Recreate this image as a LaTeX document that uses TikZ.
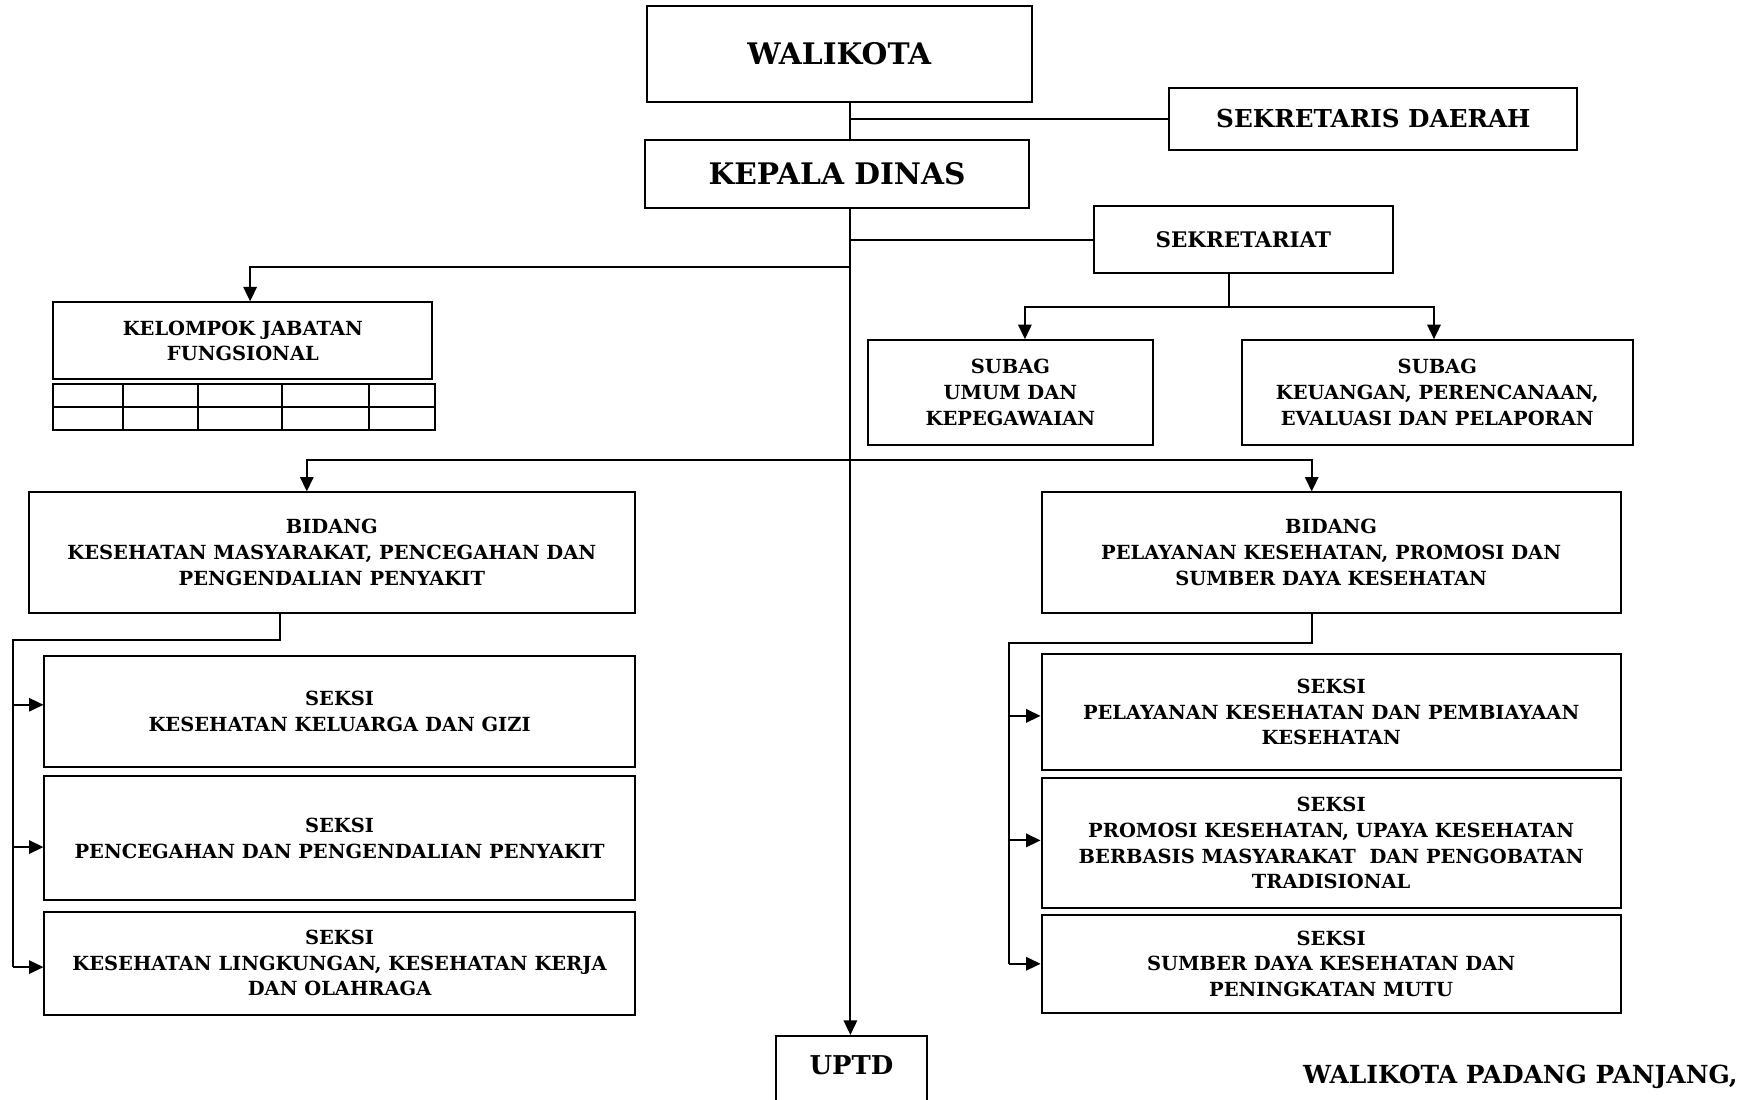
\documentclass[tikz,border=0pt]{standalone}
\usepackage{fontspec}
\setmainfont{DejaVu Serif}
\usetikzlibrary{calc,arrows.meta}

\begin{document}
\begin{tikzpicture}[x=1pt,y=-1pt,line width=1.8pt,
  box/.style={draw,align=center,inner sep=0pt,font=\bfseries\fontsize{17.5}{23}\selectfont},
  arr/.style={-{Triangle[length=13pt,width=12pt]}}]
  \useasboundingbox (0,0) rectangle (1568,989);
  \clip (0,0) rectangle (1568,989);
  \node[box,minimum width=346pt,minimum height=87pt,font=\bfseries\fontsize{26.7}{30}\selectfont] (0) at (755,48.5) {WALIKOTA};
  \node[box,minimum width=367pt,minimum height=56pt,font=\bfseries\fontsize{22.2}{26}\selectfont] (1) at (1235.5,107) {SEKRETARIS DAERAH};
  \node[box,minimum width=346pt,minimum height=61pt,font=\bfseries\fontsize{26.7}{30}\selectfont] (2) at (753,156.5) {KEPALA DINAS};
  \node[box,minimum width=269pt,minimum height=61pt,font=\bfseries\fontsize{19.3}{23}\selectfont] (3) at (1118.5,215.5) {SEKRETARIAT};
  \node[box,minimum width=341pt,minimum height=69pt] (4) at (218.5,306.5) {KELOMPOK JABATAN\\FUNGSIONAL};
  \node[box,minimum width=343pt,minimum height=42pt] (5) at (219.5,366) {};
  \node[box,minimum width=256pt,minimum height=94pt] (6) at (909,353) {SUBAG\\UMUM DAN\\KEPEGAWAIAN};
  \node[box,minimum width=352pt,minimum height=94pt] (7) at (1293,353) {SUBAG\\KEUANGAN, PERENCANAAN,\\EVALUASI DAN PELAPORAN};
  \node[box,minimum width=545pt,minimum height=108pt] (8) at (298.5,497) {BIDANG\\KESEHATAN MASYARAKAT, PENCEGAHAN DAN\\PENGENDALIAN PENYAKIT};
  \node[box,minimum width=521pt,minimum height=108pt] (9) at (1197.5,497) {BIDANG\\PELAYANAN KESEHATAN, PROMOSI DAN\\SUMBER DAYA KESEHATAN};
  \node[box,minimum width=531pt,minimum height=100pt] (10) at (305.5,640) {SEKSI\\KESEHATAN KELUARGA DAN GIZI};
  \node[box,minimum width=531pt,minimum height=112pt] (11) at (305.5,754) {SEKSI\\PENCEGAHAN DAN PENGENDALIAN PENYAKIT};
  \node[box,minimum width=531pt,minimum height=93pt] (12) at (305.5,866.5) {SEKSI\\KESEHATAN LINGKUNGAN, KESEHATAN KERJA\\DAN OLAHRAGA};
  \node[box,minimum width=521pt,minimum height=105pt] (13) at (1197.5,640.5) {SEKSI\\PELAYANAN KESEHATAN DAN PEMBIAYAAN\\KESEHATAN};
  \node[box,minimum width=521pt,minimum height=117pt] (14) at (1197.5,758.5) {SEKSI\\PROMOSI KESEHATAN, UPAYA KESEHATAN\\BERBASIS MASYARAKAT \ DAN PENGOBATAN\\TRADISIONAL};
  \node[box,minimum width=521pt,minimum height=88pt] (15) at (1197.5,867) {SEKSI\\SUMBER DAYA KESEHATAN DAN\\PENINGKATAN MUTU};
  \node[box,anchor=north,minimum width=135pt,inner ysep=18pt,text depth=60pt,font=\bfseries\fontsize{23.3}{27}\selectfont] (16) at (766,931) {UPTD};
  \node[anchor=base east,inner sep=0pt,font=\bfseries\fontsize{22.4}{26}\selectfont] (17) at (1564,975) {WALIKOTA PADANG PANJANG,};
  % kolom tabel fungsional
  \draw (5.west) -- (5.east);
  \foreach \x in {111,178,254,332}
    \draw (5.north -| \x,0) -- (5.south -| \x,0);
  % garis utama
  \coordinate (a) at (765,0);
  \coordinate (b) at (765,240);
  \coordinate (c) at (765,414);
  \draw (0.south -| a) -- (2.north -| a);
  \draw (1.west) -- (1.west -| a);
  \draw[arr] (2.south -| a) -- (16.north -| a);
  \draw (3.west) -- (3.west -| a);
  \draw[arr] (b) -| ($(4.north)+(6.5,0)$);
  \draw ($(3.south)+(-12.5,0)$) -- ++(0,29) coordinate (d);
  \draw[arr] (d) -| ($(6.north)+(13,0)$);
  \draw[arr] (d) -| ($(7.north)+(-3,0)$);
  \draw[arr] (c) -| ($(8.north)+(-22.5,0)$);
  \draw[arr] (c) -| ($(9.north)+(-17.5,0)$);
  % seksi
  \draw ($(8.south)+(-46.5,0)$) |- (12,576) -- (12,870);
  \foreach \n/\y in {10/634,11/762,12/870}
    \draw[arr] (12,\y) -- (\n.west |- 0,\y);
  \draw ($(9.south)+(-17.5,0)$) |- (908,578) -- (908,867);
  \foreach \n/\y in {13/644,14/756,15/867}
    \draw[arr] (908,\y) -- (\n.west |- 0,\y);
\end{tikzpicture}
\end{document}
